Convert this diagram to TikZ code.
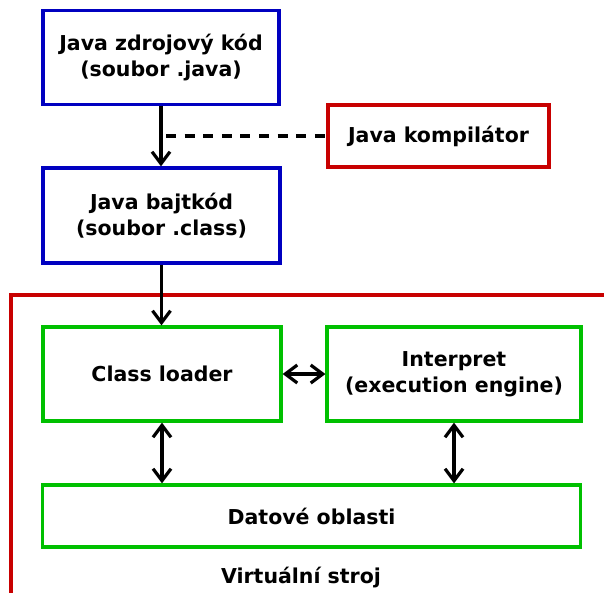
\documentclass[tikz,border=0pt]{standalone}
\usepackage{fontspec}
\setmainfont{DejaVu Sans}
\usetikzlibrary{arrows.meta}
\definecolor{cblue}{RGB}{0,0,192}
\definecolor{cred}{RGB}{200,0,0}
\definecolor{cgreen}{RGB}{0,192,0}
\begin{document}
\begin{tikzpicture}[x=1pt,y=-1pt,
  box/.style={draw,line width=3.2pt,rectangle,align=center,inner sep=0pt,
    font=\fontsize{20.5}{26}\selectfont\bfseries},
  bluebox/.style={box,draw=cblue},
  redbox/.style={box,draw=cred},
  greenbox/.style={box,draw=cgreen},
  conn/.style={line width=3.2pt,black},
  tip/.style={-{Straight Barb[length=12pt,width=18pt]}},
  dtip/.style={{Straight Barb[length=12pt,width=18pt]}-{Straight Barb[length=12pt,width=18pt]}},
  frame/.style={draw=cred,line width=3.2pt}]
\useasboundingbox (0,0) rectangle (604,592);
\node[bluebox,minimum width=236pt,minimum height=94pt] (src) at (161,57.5) {Java zdrojový kód\\(soubor .java)};
\node[bluebox,minimum width=237pt,minimum height=95pt] (bc) at (161.5,215.5) {Java bajtkód\\(soubor .class)};
\node[redbox,minimum width=221pt,minimum height=62pt] (comp) at (438.5,136) {Java kompilátor};
\node[greenbox,minimum width=238pt,minimum height=94pt] (cl) at (162,374) {Class loader};
\node[greenbox,minimum width=254pt,minimum height=94pt] (int) at (454,374) {Interpret\\(execution engine)};
\node[greenbox,minimum width=538pt,minimum height=62pt] (data) at (311.5,516) {Datové oblasti};
\coordinate (fr1) at (607,295);
\coordinate (fr2) at (11,295);
\coordinate (fr3) at (11,595);
\draw[frame] (fr1) -- (fr2) -- (fr3);
\node[font=\fontsize{20.5}{24}\selectfont\bfseries] (vm) at (301,578) {Virtuální stroj};
\coordinate (ds) at (166,136);
\draw[conn,tip] (src.south) -- (src.south |- bc.north);
\draw[conn,dash pattern=on 10pt off 8.6pt] (ds) -- (comp.west);
\draw[conn,tip] (bc.south) -- (bc.south |- cl.north);
\draw[conn,dtip] (cl.east) -- (int.west);
\draw[conn,dtip] (cl.south) -- (cl.south |- data.north);
\draw[conn,dtip] (int.south) -- (int.south |- data.north);
\end{tikzpicture}
\end{document}
